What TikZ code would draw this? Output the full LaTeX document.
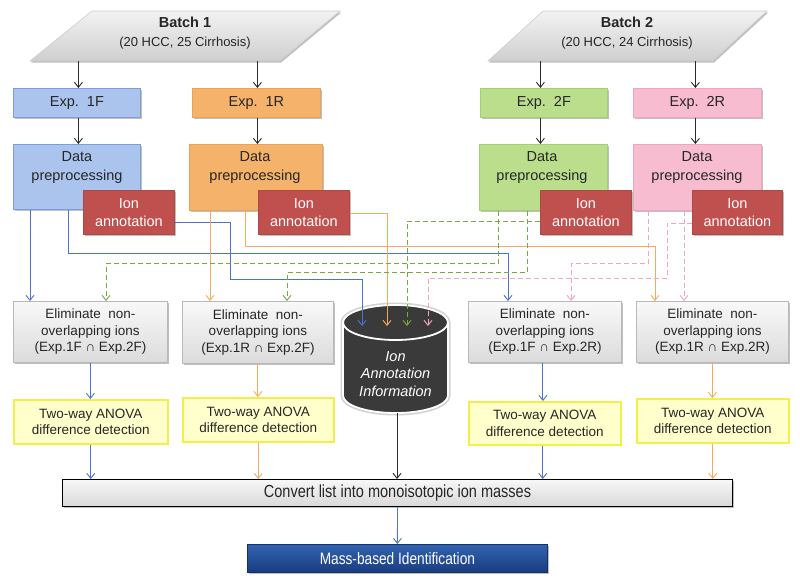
\documentclass[tikz,border=0pt]{standalone}
\usepackage{fontspec}
\setmainfont{Liberation Sans}
\newfontfamily\narrowfont[FakeStretch=0.83]{Liberation Sans}
\usetikzlibrary{arrows.meta,shadows,calc}
\definecolor{txt}{HTML}{262626}
\definecolor{bF}{HTML}{AAC4EE}\definecolor{bFd}{HTML}{7C9FDA}
\definecolor{oR}{HTML}{F4B26B}\definecolor{oRd}{HTML}{EBA257}
\definecolor{gF}{HTML}{BBDE8C}\definecolor{gFd}{HTML}{A6CF74}
\definecolor{pR}{HTML}{F7BCD0}\definecolor{pRd}{HTML}{EDA7C0}
\definecolor{ionred}{HTML}{C0504D}\definecolor{ionredd}{HTML}{B24744}
\definecolor{lblue}{HTML}{4A74C9}
\definecolor{lorange}{HTML}{F5AB5C}
\definecolor{lgreen}{HTML}{78A840}
\definecolor{lpink}{HTML}{F4A3C0}
\definecolor{ayel}{HTML}{FFFFCC}\definecolor{ayeld}{HTML}{F2EE4A}
\definecolor{massA}{HTML}{3263B0}\definecolor{massB}{HTML}{1A3C80}
\definecolor{dbfill}{HTML}{3A3A3A}
\definecolor{lnkk}{HTML}{2A2A2A}
\definecolor{lnmass}{HTML}{5878B2}
\begin{document}
\begin{tikzpicture}[x=1pt,y=-1pt,
  shd/.style={drop shadow={shadow xshift=1.2pt,shadow yshift=-1.5pt,opacity=0.25,fill=black}},
  box/.style={shd,draw,line width=0.8pt,anchor=north west,inner sep=0pt,align=center,text=txt},
  expbox/.style={box,font=\fontsize{14.5}{18}\selectfont},
  databox/.style={box},
  datatext/.style={align=center,text=txt,font=\fontsize{14.5}{19}\selectfont,inner sep=0pt},
  ionbox/.style={box,fill=ionred,draw=ionredd,text=white,minimum width=91pt,minimum height=44pt,font=\fontsize{14.5}{18}\selectfont},
  elimbox/.style={box,top color=gray!5,bottom color=gray!28,draw=gray!55,minimum height=61pt,font=\fontsize{13.5}{16.5}\selectfont},
  anovabox/.style={box,fill=ayel,draw=ayeld,line width=1.5pt,minimum height=44pt,font=\fontsize{13.5}{16.5}\selectfont},
  batchtext/.style={align=center,text=txt,inner sep=0pt,font=\fontsize{13}{19}\selectfont},
  batchshape/.style={shd,top color=gray!10,bottom color=gray!38,draw=gray!40,line width=0.6pt},
  arr/.style={-{Straight Barb[length=5pt,width=8pt]},line width=0.9pt},
  lnB/.style={arr,draw=lblue},
  lnO/.style={arr,draw=lorange},
  lnG/.style={arr,draw=lgreen,dash pattern=on 5pt off 3pt},
  lnP/.style={arr,draw=lpink,dash pattern=on 5pt off 3pt},
  lnK/.style={arr,draw=lnkk},
]
\useasboundingbox (0,0) rectangle (800,587);

% batches
\path[batchshape] (92,11) -- (340,11) -- (280,61) -- (30,61) -- cycle;
\node[batchtext] (b1) at (185,33.5) {{\fontsize{14.5}{19}\selectfont\bfseries Batch 1}\\(20 HCC, 25 Cirrhosis)};
\path[batchshape] (543,11) -- (767,11) -- (713,61) -- (488,61) -- cycle;
\node[batchtext] (b2) at (627,33.5) {{\fontsize{14.5}{19}\selectfont\bfseries Batch 2}\\(20 HCC, 24 Cirrhosis)};
\coordinate (bbot) at (0,61);

% experiments
\node[expbox,fill=bF,draw=bFd,minimum width=127pt,minimum height=29pt] (e1f) at (13,88) {Exp.\ \ 1F};
\node[expbox,fill=oR,draw=oRd,minimum width=128pt,minimum height=29pt] (e1r) at (192,88) {Exp.\ \ 1R};
\node[expbox,fill=gF,draw=gFd,minimum width=127pt,minimum height=29pt] (e2f) at (480,88) {Exp.\ \ 2F};
\node[expbox,fill=pR,draw=pRd,minimum width=128pt,minimum height=29pt] (e2r) at (633,88) {Exp.\ \ 2R};

% data preprocessing
\node[databox,fill=bF,draw=bFd,minimum width=127pt,minimum height=65pt] (d1f) at (13,144) {};
\node[databox,fill=oR,draw=oRd,minimum width=133pt,minimum height=66pt] (d1r) at (189,144) {};
\node[databox,fill=gF,draw=gFd,minimum width=128pt,minimum height=66pt] (d2f) at (479,144) {};
\node[databox,fill=pR,draw=pRd,minimum width=128pt,minimum height=66pt] (d2r) at (633,144) {};
\node[datatext] (d1ft) at (77,167.5) {Data\\preprocessing};
\node[datatext] (d1rt) at (255,167.5) {Data\\preprocessing};
\node[datatext] (d2ft) at (542,167.5) {Data\\preprocessing};
\node[datatext] (d2rt) at (697,167.5) {Data\\preprocessing};

% ion annotation
\node[ionbox] (i1f) at (83,190) {Ion\\annotation};
\node[ionbox] (i1r) at (258,190) {Ion\\annotation};
\node[ionbox] (i2f) at (540,190) {Ion\\annotation};
\node[ionbox,minimum width=90pt] (i2r) at (692,190) {Ion\\annotation};

% eliminate
\node[elimbox,minimum width=154pt] (el1) at (13,301) {Eliminate\ \ non-\\overlapping ions\\(Exp.1F ∩ Exp.2F)};
\node[elimbox,minimum width=151pt,minimum height=62pt] (el2) at (182,301) {Eliminate\ \ non-\\overlapping ions\\(Exp.1R ∩ Exp.2F)};
\node[elimbox,minimum width=153pt] (el3) at (468,301) {Eliminate\ \ non-\\overlapping ions\\(Exp.1F ∩ Exp.2R)};
\node[elimbox,minimum width=152pt] (el4) at (636,301) {Eliminate\ \ non-\\overlapping ions\\(Exp.1R ∩ Exp.2R)};

% anova
\node[anovabox,minimum width=154pt] (an1) at (13,399) {Two-way ANOVA\\difference detection};
\node[anovabox,minimum width=151pt] (an2) at (182,397) {Two-way ANOVA\\difference detection};
\node[anovabox,minimum width=152pt,minimum height=43pt] (an3) at (468,401) {Two-way ANOVA\\difference detection};
\node[anovabox,minimum width=152pt] (an4) at (636,398) {Two-way ANOVA\\difference detection};

% convert and mass
\node[box,top color=gray!6,bottom color=gray!30,draw=black,line width=1pt,minimum width=670pt,minimum height=27pt,font=\narrowfont\fontsize{17.5}{20}\selectfont] (conv) at (62,479) {Convert list into monoisotopic ion masses};
\node[box,top color=massA,bottom color=massB,draw=massB!80!black,minimum width=300pt,minimum height=28pt,text=white,font=\narrowfont\fontsize{16.5}{20}\selectfont] (mass) at (247,544) {Mass-based Identification};

% database cylinder
\draw[gray!35,line width=5pt] (343,322.5) -- (343,395.5) arc[start angle=180,end angle=0,x radius=52.5,y radius=17.5] -- (448,322.5) arc[start angle=0,end angle=-180,x radius=52.5,y radius=17.5] -- cycle;
\fill[dbfill] (343,322.5) -- (343,395.5) arc[start angle=180,end angle=0,x radius=52.5,y radius=17.5] -- (448,322.5) arc[start angle=0,end angle=-180,x radius=52.5,y radius=17.5] -- cycle;
\draw[white,line width=1.8pt] (343,322.5) -- (343,395.5) arc[start angle=180,end angle=0,x radius=52.5,y radius=17.5] -- (448,322.5);
\draw[white,line width=1.8pt] (395.5,322.5) ellipse[x radius=52.5,y radius=17.5];
\node[align=center,text=white,inner sep=0pt,font=\itshape\fontsize{14.5}{17.5}\selectfont] (dbt) at (395.5,374) {Ion\\Annotation\\Information};
\coordinate (dbB) at (362,326);
\coordinate (dbO) at (387,326);
\coordinate (dbG) at (407,326);
\coordinate (dbP) at (428,326);
\coordinate (dbbot) at (397,413);

% black arrows
\draw[lnK] ([xshift=1.5pt]e1f.north |- bbot) -- ([xshift=1.5pt]e1f.north);
\draw[lnK] ([xshift=1pt]e1r.north |- bbot) -- ([xshift=1pt]e1r.north);
\draw[lnK] ([xshift=-3.5pt]e2f.north |- bbot) -- ([xshift=-3.5pt]e2f.north);
\draw[lnK] ([xshift=-2pt]e2r.north |- bbot) -- ([xshift=-2pt]e2r.north);
\draw[lnK] ([xshift=1.5pt]e1f.south) -- ([xshift=1.5pt]e1f.south |- d1f.north);
\draw[lnK] ([xshift=1pt]e1r.south) -- ([xshift=1pt]e1r.south |- d1r.north);
\draw[lnK] ([xshift=-3.5pt]e2f.south) -- ([xshift=-3.5pt]e2f.south |- d2f.north);
\draw[lnK] ([xshift=-2pt]e2r.south) -- ([xshift=-2pt]e2r.south |- d2r.north);

% blue (1F)
\draw[lnB] ([xshift=17pt]d1f.south west) -- ([xshift=17pt]el1.north west);
\draw[lnB] ([xshift=55pt]d1f.south west) -- ++(0,44) -| ([xshift=40pt]el3.north west);
\draw[lnB] ([yshift=-10pt]i1f.east) -| (230,279) -| (dbB);

% orange (1R)
\draw[lnO] ([xshift=21pt]d1r.south west) -- ([xshift=28pt]el2.north west);
\draw[lnO] ([xshift=56pt]d1r.south west) -- ++(0,36) -| ([xshift=19pt]el4.north west);
\draw[lnO] ([yshift=-1pt]i1r.east) -| (dbO);

% green (2F)
\draw[lnG] ([xshift=19pt]d2f.south west) -- ++(0,53) -| ([xshift=93pt]el1.north west);
\draw[lnG] ([xshift=48pt]d2f.south west) -- ++(0,62) -| ([xshift=105pt]el2.north west);
\draw[lnG] ([yshift=-9pt]i2f.west) -| (dbG);

% pink (2R)
\draw[lnP] ([xshift=15pt]d2r.south west) -- ++(0,53) -| ([xshift=103pt]el3.north west);
\draw[lnP] ([xshift=51pt]d2r.south west) -- ([xshift=48pt]el4.north west);
\draw[lnP] ([yshift=-11pt]i2r.west) -| (667,278) -| (dbP);

% eliminate -> anova -> convert
\draw[lnB] (el1.south) -- (el1.south |- an1.north);
\draw[lnO] (el2.south) -- (el2.south |- an2.north);
\draw[lnB] ([xshift=-2pt]el3.south) -- ([xshift=-2pt]el3.south |- an3.north);
\draw[lnO] (el4.south) -- (el4.south |- an4.north);
\draw[lnB] (an1.south) -- (an1.south |- conv.north);
\draw[lnO] (an2.south) -- (an2.south |- conv.north);
\draw[lnB] ([xshift=-2pt]an3.south) -- ([xshift=-2pt]an3.south |- conv.north);
\draw[lnO] (an4.south) -- (an4.south |- conv.north);
\draw[lnK] (dbbot) -- (dbbot |- conv.north);
\draw[arr,draw=lnmass] (conv.south) -- (mass.north);
\end{tikzpicture}
\end{document}
